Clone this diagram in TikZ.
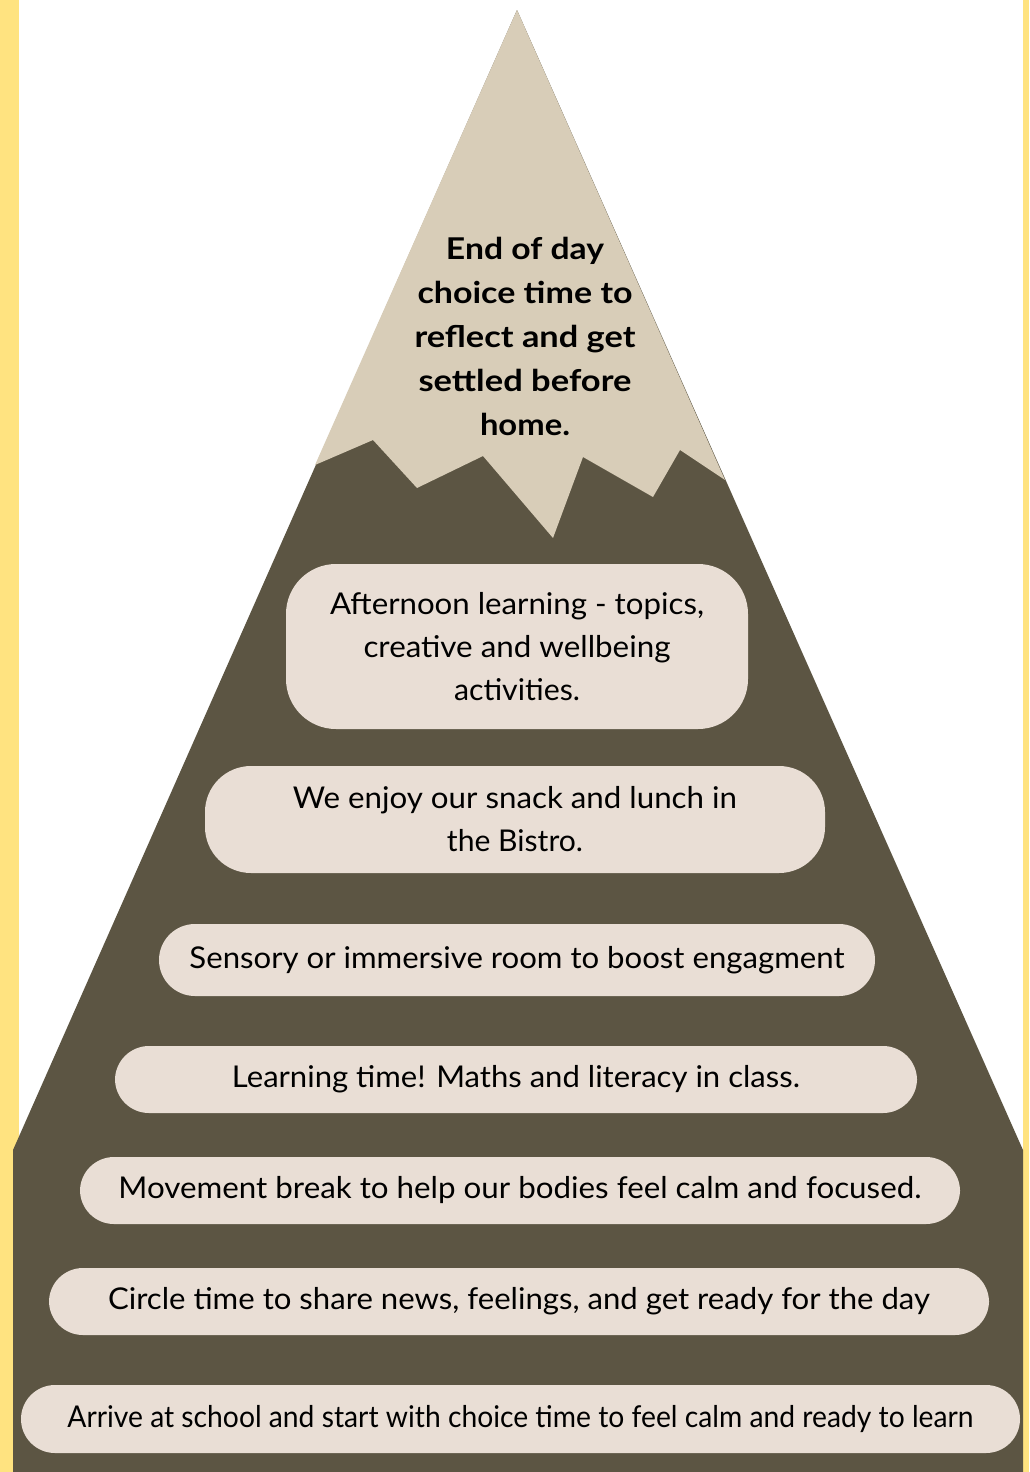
\documentclass[tikz,border=0pt]{standalone}
\usepackage{fontspec}
\setmainfont{Lato}
\usepackage{graphicx}
\usepackage{xcolor}
\definecolor{sunyellow}{HTML}{FFE380}
\definecolor{rockbrown}{HTML}{5C5543}
\definecolor{snowbeige}{HTML}{D8CDB8}
\definecolor{pillcream}{HTML}{E9DED5}
\newlength\pxunit
\setlength\pxunit{0.5pt}
\newcommand\fitline[2]{\resizebox{#1\pxunit}{\height}{#2}}
\tikzset{
    day-pill/.style = {fill=pillcream, rectangle, rounded corners=17pt, inner sep=0pt, align=center, text=black, font=\fontsize{15}{21.5}\selectfont},
    peak-title/.style = {align=center, text=black, font=\bfseries\fontsize{15}{22}\selectfont},
}

\begin{document}
\begin{tikzpicture}[x=0.5pt, y=-0.5pt]
\useasboundingbox (0,0) rectangle (1029,1472);
\fill[white] (0,0) rectangle (1029,1472);
\fill[sunyellow] (0,0) rectangle (19,1472);
\fill[sunyellow] (1023,0) rectangle (1029,1472);
% mountain and snow cap
\fill[rockbrown] (517,10) -- (1023,1150) -- (1023,1472) -- (13,1472) -- (13,1150) -- cycle;
\fill[snowbeige] (517,10) -- (725,480) -- (680,450) -- (653,497) -- (583,457) -- (553,538)
    -- (483,456) -- (417,488) -- (373,440) -- (315,465) -- cycle;
\node[peak-title] (endday) at (525,336) {\fitline{158}{End of day}\\ \fitline{215}{choice time to}\\ \fitline{221}{reflect and get}\\ \fitline{213}{settled before}\\ \fitline{90}{home.}};
% the day, bottom to top
\node[day-pill, minimum width=231pt, minimum height=82.5pt, rounded corners=25pt] (afternoon) at (517,646.5) {\fitline{374}{Afternoon learning - topics,}\\ \fitline{307}{creative and wellbeing}\\ \fitline{126}{activities.}};
\node[day-pill, minimum width=310pt, minimum height=53.5pt, rounded corners=23pt] (lunch) at (515,819.5) {\fitline{444}{We enjoy our snack and lunch in}\\ \fitline{136}{the Bistro.}};
\node[day-pill, minimum width=358pt, minimum height=36pt, rounded corners=18pt] (sensory) at (517,960) {\fitline{655}{Sensory or immersive room to boost engagment}};
\node[day-pill, minimum width=401pt, minimum height=33.5pt] (learning) at (516,1079.5) {\fitline{568}{Learning time! Maths and literacy in class.}};
\node[day-pill, minimum width=440pt, minimum height=33.5pt] (movement) at (520,1190.5) {\fitline{803}{Movement break to help our bodies feel calm and focused.}};
\node[day-pill, minimum width=470pt, minimum height=33.5pt] (circle) at (519,1301.5) {\fitline{822}{Circle time to share news, feelings, and get ready for the day}};
\node[day-pill, minimum width=499.5pt, minimum height=34pt] (arrive) at (520.5,1419) {\fitline{906}{Arrive at school and start with choice time to feel calm and ready to learn}};
\end{tikzpicture}
\end{document}
